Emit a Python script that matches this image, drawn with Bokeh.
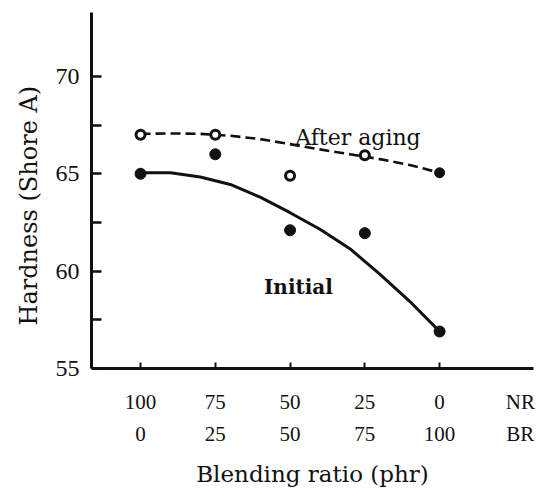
import math
from bokeh.plotting import figure
from bokeh.models import Range1d, FixedTicker, LinearAxis, Label, Title
from bokeh.embed import file_html
from bokeh.resources import INLINE

# ---- data ----
br_ratio = [0, 25, 50, 75, 100]          # BR (phr)
nr_ratio = [100, 75, 50, 25, 0]          # NR (phr)
row_names = ["NR", "BR"]
hard_initial = [65.0, 66.0, 62.1, 61.95, 56.9]
hard_aged = [67.0, 67.0, 64.9, 65.95, 65.05]

# smooth trend curves
curve_br = [0, 10, 20, 30, 40, 50, 60, 70, 80, 90, 100]
curve_initial = [65.05, 65.05, 64.83, 64.45, 63.8, 63.0, 62.15, 61.15, 59.85, 58.45, 56.9]
curve_aged = [67.05, 67.07, 67.05, 66.95, 66.78, 66.52, 66.25, 66.0, 65.75, 65.45, 65.05]

y_ticks = [55, 60, 65, 70]
y_minor = [57.5, 62.5, 67.5]

NAME_POS = 127  # where the NR / BR row names sit along the x axis

SERIF = "Liberation Serif"
DSERIF = "DejaVu Serif"
INK = "#111111"

p = figure(width=547, height=489,
           x_range=Range1d(-16.4, 131.4), y_range=Range1d(55, 73.28),
           output_backend="svg", toolbar_location=None,
           min_border_left=91, min_border_right=14,
           min_border_top=12, min_border_bottom=121)
p.outline_line_color = None
p.xgrid.visible = False
p.ygrid.visible = False
p.background_fill_color = "white"
p.border_fill_color = "white"

# y axis
ya = p.yaxis[0]
ya.ticker = FixedTicker(ticks=y_ticks, minor_ticks=y_minor)
ya.axis_line_width = 3
ya.axis_line_color = INK
ya.major_tick_in = 10
ya.major_tick_out = 0
ya.minor_tick_in = 10
ya.minor_tick_out = 0
ya.major_tick_line_width = 2.5
ya.minor_tick_line_width = 2.5
ya.major_tick_line_color = INK
ya.minor_tick_line_color = INK
ya.major_label_text_font = SERIF
ya.major_label_text_font_size = "24px"
ya.major_label_text_color = INK
ya.major_label_standoff = 12

# x axis row 1 (NR): tick marks come from the minor ticks, labels from major ones
xa = p.xaxis[0]
xa.ticker = FixedTicker(ticks=br_ratio + [NAME_POS], minor_ticks=br_ratio)
ov1 = {b: str(n) for b, n in zip(br_ratio, nr_ratio)}
ov1[NAME_POS] = row_names[0]
xa.major_label_overrides = ov1
xa.axis_line_width = 3
xa.axis_line_color = INK
xa.major_tick_line_color = None
xa.major_tick_in = 0
xa.major_tick_out = 0
xa.minor_tick_in = 6
xa.minor_tick_out = 0
xa.minor_tick_line_width = 2
xa.minor_tick_line_color = INK
xa.major_label_text_font = SERIF
xa.major_label_text_font_size = "21px"
xa.major_label_text_color = INK
xa.major_label_standoff = 21

# x axis row 2 (BR) with the axis title
xb = LinearAxis(ticker=FixedTicker(ticks=br_ratio + [NAME_POS]),
                major_label_overrides={NAME_POS: row_names[1]},
                axis_line_color=None, major_tick_line_color=None,
                minor_tick_line_color=None, major_tick_in=0, major_tick_out=0,
                minor_tick_in=0, minor_tick_out=0,
                major_label_text_font=SERIF, major_label_text_font_size="21px",
                major_label_text_color=INK, major_label_standoff=5,
                axis_label="Blending ratio (phr)", axis_label_text_font=DSERIF,
                axis_label_text_font_size="23px", axis_label_text_font_style="normal",
                axis_label_text_color=INK, axis_label_standoff=12)
p.add_layout(xb, "below")

# y axis title
p.add_layout(Title(text="Hardness (Shore A)", align="left", offset=43,
                   standoff=20, text_font=DSERIF, text_font_size="24px",
                   text_font_style="normal", text_color=INK), "left")

# curves
p.line(curve_br, curve_initial, line_color=INK, line_width=3)
p.line(curve_br, curve_aged, line_color=INK, line_width=2.6, line_dash="10 5")

# markers
p.scatter(br_ratio, hard_initial, size=11, fill_color=INK, line_color=INK)
p.scatter(br_ratio[:-1], hard_aged[:-1], size=9, fill_color="white",
          line_color=INK, line_width=3)
p.scatter(br_ratio[-1:], hard_aged[-1:], size=10, fill_color=INK, line_color=INK)

# in-plot curve labels
def lab(x, y, text, size, style="normal"):
    p.add_layout(Label(x=x, y=y, text=text, text_font=DSERIF, text_font_size=size,
                       text_font_style=style, text_color=INK, text_align="center",
                       text_baseline="alphabetic"))

lab(72.7, 66.86, "After aging", "22px")
lab(52.8, 59.16, "Initial", "20px", style="bold")

open("out.html", "w").write(file_html(p, INLINE))
